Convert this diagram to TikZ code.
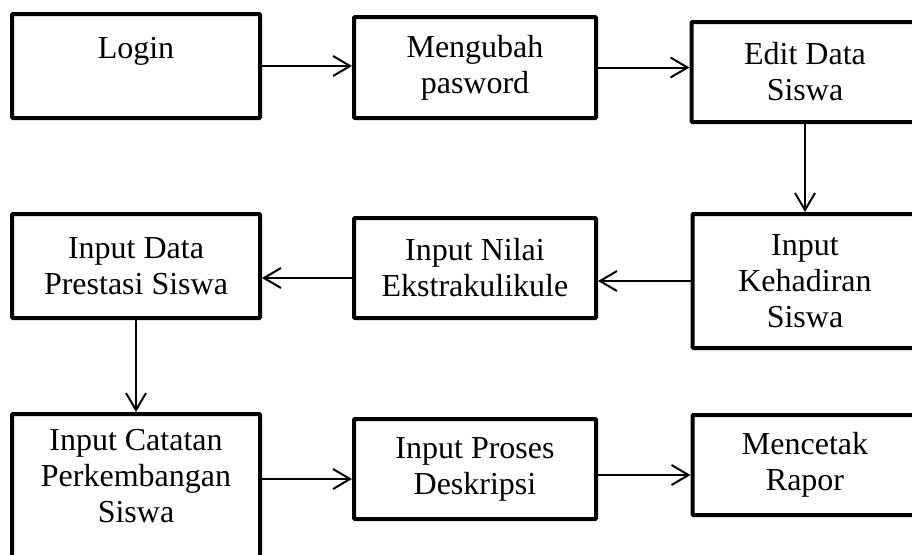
\documentclass[tikz,border=0pt]{standalone}
\usepackage{fontspec}
\setmainfont{Liberation Serif}
\usetikzlibrary{arrows.meta}

\tikzset{
  stepbox/.style={draw, line width=4pt, rounded corners=1pt, align=center, inner sep=0pt,
    font=\fontsize{32}{36}\selectfont},
  flow/.style={line width=2pt, -{Straight Barb[length=17pt,width=20pt]}}
}

\begin{document}
\begin{tikzpicture}[x=1pt, y=-1pt]
                \useasboundingbox (0,0) rectangle (912,554);
                \clip (0,0) rectangle (912,554);

                % Row 1
                \node[stepbox, minimum width=248pt, minimum height=104pt] (login) at (136,66) {Login\\~};
                \node[stepbox, minimum width=242pt, minimum height=101pt] (ubah) at (475,67.5) {Mengubah\\pasword};
                \node[stepbox, minimum width=227pt, minimum height=100pt] (edit) at (805,72) {Edit Data\\Siswa};

                % Row 2
                \node[stepbox, minimum width=225pt, minimum height=134pt] (hadir) at (805,281) {Input\\Kehadiran\\Siswa};
                \node[stepbox, minimum width=242pt, minimum height=100pt] (ekskul) at (475,268) {Input Nilai\\Ekstrakulikule};
                \node[stepbox, minimum width=248pt, minimum height=104pt] (prestasi) at (136,266) {Input Data\\Prestasi Siswa};

                % Row 3
                \node[stepbox, minimum width=248pt, minimum height=146pt] (catatan) at (136,487) {Input Catatan\\Perkembangan\\Siswa\\[-14pt]~};
                \node[stepbox, minimum width=242pt, minimum height=100pt] (deskripsi) at (475,469) {Input Proses\\Deskripsi};
                \node[stepbox, minimum width=225pt, minimum height=100pt] (rapor) at (805,465) {Mencetak\\Rapor};

                % Connectors
                \draw[flow] (login.east) -- (login.east -| ubah.west);
                \draw[flow] (ubah.east) -- (ubah.east -| edit.west);
                \draw[flow] (edit.south) -- (edit.south |- hadir.north);
                \draw[flow] (hadir.west) -- (hadir.west -| ekskul.east);
                \draw[flow] ([yshift=-10pt]ekskul.west) -- ([yshift=-10pt]ekskul.west -| prestasi.east);
                \draw[flow] (prestasi.south) -- (prestasi.south |- catatan.north);
                \draw[flow] ([yshift=-10pt]deskripsi.west -| catatan.east) -- ([yshift=-10pt]deskripsi.west);
                \draw[flow] ([yshift=-6pt]deskripsi.east) -- ([yshift=-6pt]deskripsi.east -| rapor.west);

\end{tikzpicture}
\end{document}
